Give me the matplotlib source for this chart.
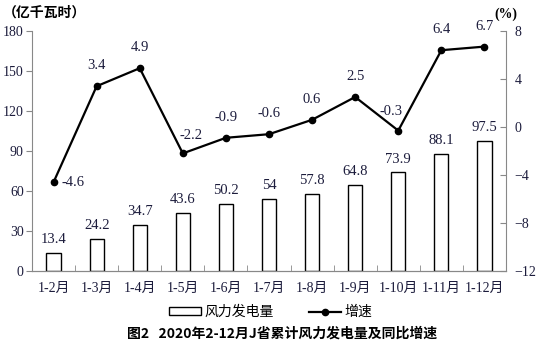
import matplotlib
matplotlib.use("Agg")
import matplotlib.pyplot as plt
import numpy as np

plt.rcParams['font.family'] = ['Liberation Serif', 'Noto Sans CJK SC', 'DejaVu Sans']

months = ['1-2月', '1-3月', '1-4月', '1-5月', '1-6月', '1-7月', '1-8月',
          '1-9月', '1-10月', '1-11月', '1-12月']
generation = [13.4, 24.2, 34.7, 43.6, 50.2, 54, 57.8, 64.8, 73.9, 88.1, 97.5]
growth = [-4.6, 3.4, 4.9, -2.2, -0.9, -0.6, 0.6, 2.5, -0.3, 6.4, 6.7]

txt = '#1c1c3c'
spine = '#888888'

fig = plt.figure(figsize=(5.38, 3.46), dpi=100)
ax = fig.add_axes([0.0595, 0.2168, 0.881, 0.6936])
ax2 = ax.twinx()

x = np.arange(len(months))
bars = ax.bar(x, generation, width=0.33, facecolor='white', edgecolor='black',
              linewidth=1.0, label='风力发电量', zorder=2)
for xi, v in zip(x, generation):
    ax.text(xi, v + 5, f'{v:g}', ha='center', va='bottom', fontsize=10.5, color=txt)

ax.set_xlim(-0.5, len(months) - 0.5)
ax.set_ylim(0, 180)
ax.set_yticks(np.arange(0, 181, 30))
ax.set_xticks(x)
ax.set_xticklabels(months, fontsize=10, color=txt)
ax.set_xticks(np.arange(-0.5, len(months), 1), minor=True)
ax.tick_params(axis='x', which='major', length=0, pad=8)
ax.tick_params(axis='x', which='minor', direction='in', length=4, color=spine)
ax.tick_params(axis='y', direction='out', length=4, color=spine, labelsize=10,
               labelcolor=txt, pad=2)

line, = ax2.plot(x, growth, color='black', marker='o', markersize=4.5,
                 linewidth=1.6, label='增速', zorder=3)
ax2.set_ylim(-12, 8)
ax2.set_yticks(np.arange(-12, 9, 4))
ax2.tick_params(axis='y', direction='in', length=4, color=spine, labelsize=10,
                labelcolor=txt, pad=6)

# (dx, dy, ha, va) offsets in points for the growth labels
offsets = {0: (6, 0, 'left', 'center'),
           3: (6, 8, 'center', 'bottom'),
           8: (-5, 9, 'center', 'bottom')}
for i, v in enumerate(growth):
    dx, dy, ha, va = offsets.get(i, (0, 10, 'center', 'bottom'))
    ax2.annotate(f'{v:g}', (x[i], v), xytext=(dx, dy), textcoords='offset points',
                 ha=ha, va=va, fontsize=10.5, color=txt)

for a in (ax, ax2):
    a.spines['top'].set_visible(False)
    for s in ('left', 'right', 'bottom'):
        a.spines[s].set_color(spine)
ax.spines['right'].set_visible(False)
ax2.spines['left'].set_visible(False)

fig.text(0.005, 0.965, '（亿千瓦时）', fontsize=10, fontweight='bold',
         color='black', ha='left', va='center', family=['Noto Sans CJK SC'])
fig.text(0.94, 0.96, '(%)', fontsize=10, fontweight='bold', color='black',
         ha='center', va='center')

fig.legend(handles=[bars, line], loc='center', bbox_to_anchor=(0.503, 0.098),
           ncol=2, frameon=False, handlelength=2.3, handleheight=0.5,
           columnspacing=2.6, handletextpad=0.2, numpoints=1,
           prop={'family': ['Noto Sans CJK SC'], 'size': 10})
fig.text(0.525, 0.037, '图2   2020年2-12月J省累计风力发电量及同比增速', fontsize=10,
         fontweight='bold', ha='center', va='center', family=['Noto Sans CJK SC'])

fig.savefig('out.png', dpi=100)
